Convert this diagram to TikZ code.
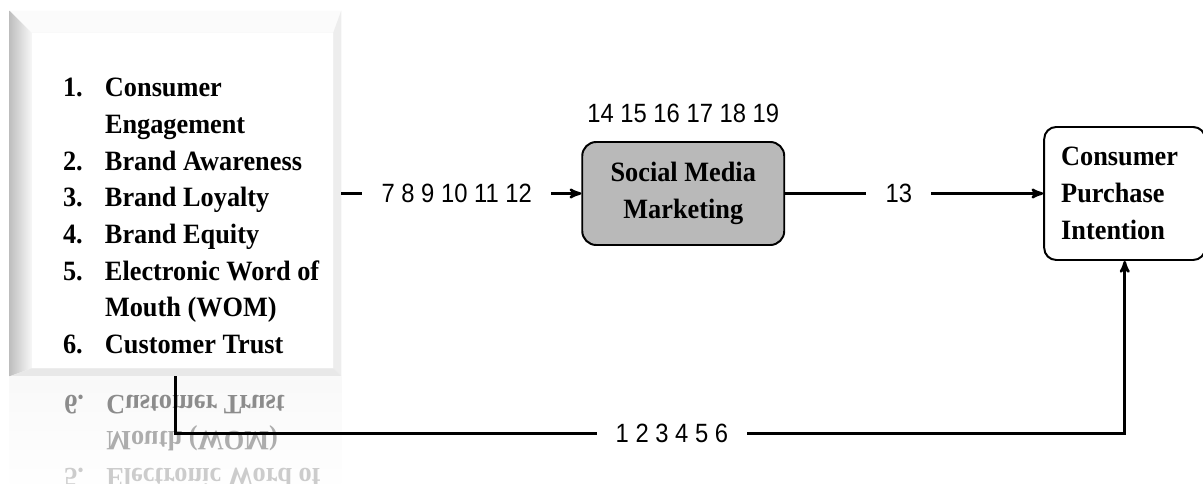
\documentclass[tikz,border=0pt]{standalone}
\usepackage{fontspec}
\setmainfont[FakeStretch=0.94]{Liberation Serif}
\setsansfont[FakeStretch=0.9]{Liberation Sans}
\colorlet{colorBox}{gray!55}
\colorlet{colorBevel}{gray!50}
\usetikzlibrary{arrows, positioning}
\tikzset{
  boxfont/.style={font=\bfseries\fontsize{19.9}{26.1}\selectfont},
  numfont/.style={font=\sffamily\fontsize{18.8}{20}\selectfont}
}

\begin{document}
\begin{tikzpicture}[>=stealth', line width=1.8pt, node distance=6cm,
  lbl/.style={numfont, fill=white, inner xsep=0.48cm, inner ysep=2pt},
  block/.style={draw, rounded corners=0.35cm, line width=1.4pt, boxfont, align=center}]
\useasboundingbox (0,0) rectangle (30.075,12.1);
\node[minimum width=8.225cm, minimum height=9.075cm, inner sep=0] (fac) at (4.3875,7.2625) {};
% bevelled panel
\fill[gray!6] (fac.north west) rectangle (fac.south east);
\shade[left color=colorBevel, right color=gray!6] (fac.north west) -- ([shift={(0.55,-0.55)}]fac.north west) -- ([shift={(0.55,0.2)}]fac.south west) -- (fac.south west) -- cycle;
\fill[gray!3] (fac.north west) -- (fac.north east) -- ([shift={(-0.2,-0.55)}]fac.north east) -- ([shift={(0.55,-0.55)}]fac.north west) -- cycle;
\fill[gray!14] (fac.north east) -- (fac.south east) -- ([shift={(-0.2,0.2)}]fac.south east) -- ([shift={(-0.2,-0.55)}]fac.north east) -- cycle;
\fill[gray!18] (fac.south west) -- (fac.south east) -- ([shift={(-0.2,0.2)}]fac.south east) -- ([shift={(0.55,0.2)}]fac.south west) -- cycle;
\fill[white] ([shift={(0.55,-0.55)}]fac.north west) rectangle ([shift={(-0.2,0.2)}]fac.south east);
\fill[gray!35] ([yshift=-0.07cm]fac.south west) rectangle (fac.south east);
\node[boxfont, anchor=base west, inner sep=0] (list) at ([shift={(1.3,-2.15)}]fac.north west) {\begin{tabular}[t]{@{}p{1.05cm}@{}l@{}}
1. & Consumer\\
 & Engagement\\
2. & Brand Awareness\\
3. & Brand Loyalty\\
4. & Brand Equity\\
5. & Electronic Word of\\
 & Mouth (WOM)\\
6. & Customer Trust
\end{tabular}};
% reflection
\begin{scope}
\clip (fac.south west) rectangle ([yshift=-3cm]fac.south east);
\shade[top color=gray!5, bottom color=white] (fac.south west) rectangle ([yshift=-3cm]fac.south east);
\begin{scope}[shift={(0,5.45)}, yscale=-1]
\node[boxfont, anchor=base west, inner sep=0, transform shape] (mirror) at (1.575,3.2275) {\begin{tabular}[b]{@{}p{1.05cm}@{}l@{}}
\textcolor{black!20}{5.} & \textcolor{black!20}{Electronic Word of}\\
 & \textcolor{black!32}{Mouth (WOM)}\\
\textcolor{black!45}{6.} & \textcolor{black!45}{Customer Trust}
\end{tabular}};
\end{scope}
\end{scope}
\node[block, fill=colorBox, minimum width=5.05cm, minimum height=2.575cm, right=of fac] (smm) {Social Media\\Marketing};
\node[block, fill=white, rounded corners=0.3cm, minimum width=4.025cm, minimum height=3.325cm, text width=3.175cm, inner xsep=0.425cm, align=left, right=6.45cm of smm] (cpi) {Consumer\\Purchase\\Intention};
\node[numfont, inner sep=0, above=0.42cm of smm] (refs) {14 15 16 17 18 19};
\draw [->] (fac) edge node[lbl, pos=0.481] {7 8 9 10 11 12} (smm);
\draw [->] (smm) edge node[lbl, pos=0.44] {13} (cpi);
\path (fac.south) ++(0,-1.425) coordinate (c1);
\draw [->] (fac.south) -- (c1) -- node[lbl, pos=0.523] {1 2 3 4 5 6} (c1 -| cpi.south) -- (cpi.south);
\end{tikzpicture}
\end{document}
